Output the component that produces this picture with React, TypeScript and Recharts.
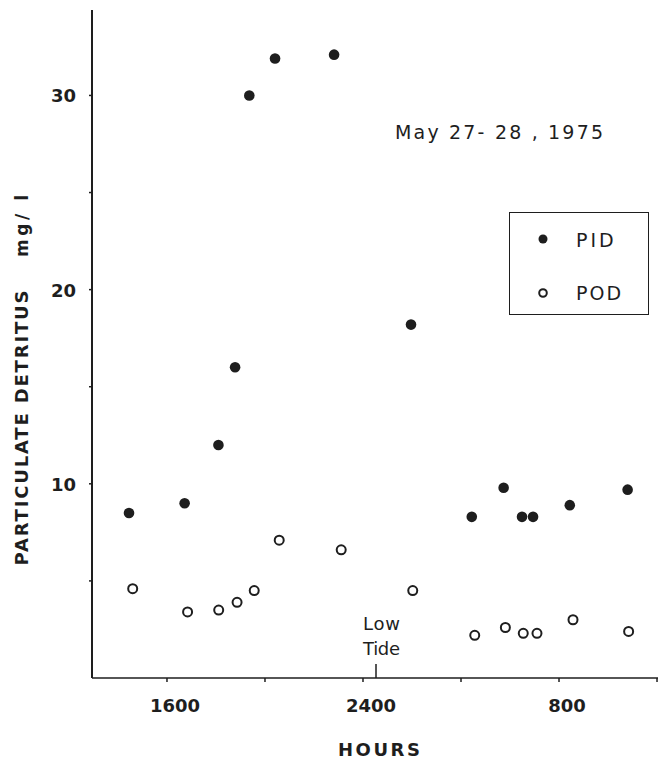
import React from 'react';
import { ScatterChart, Scatter, XAxis, YAxis, Legend } from 'recharts';

// hours counted from 0000 on May 27 (16 = 1600, 24 = 2400, 32 = 0800 next day)
const pidHours = [14.45, 16.72, 18.1, 18.78, 19.36, 20.41, 22.82, 25.96, 28.44, 29.74, 30.49, 30.94, 32.44, 34.8];
const pidValues = [8.5, 9.0, 12.0, 16.0, 30.0, 31.9, 32.1, 18.2, 8.3, 9.8, 8.3, 8.3, 8.9, 9.7];
const podHours = [14.56, 16.8, 18.07, 18.82, 19.52, 20.54, 23.07, 25.99, 28.52, 29.77, 30.5, 31.06, 32.53, 34.8];
const podValues = [4.6, 3.4, 3.5, 3.9, 4.5, 7.1, 6.6, 4.5, 2.2, 2.6, 2.3, 2.3, 3.0, 2.4];

const xTicks = [16, 20, 24, 28, 32, 36];
const xTickLabels: Record<number, string> = { 16: '1600', 24: '2400', 32: '800' };
const yTicks = [5, 10, 15, 20, 25, 30];
const yTickLabels: Record<number, string> = { 10: '10', 20: '20', 30: '30' };

const pidData = pidHours.map((h, i) => ({ h, v: pidValues[i] }));
const podData = podHours.map((h, i) => ({ h, v: podValues[i] }));

const INK = '#1e1e1e';
const FONT = '"DejaVu Sans", sans-serif';

const FilledDot = (props: any) => <circle cx={props.cx} cy={props.cy} r={5.3} fill={INK} />;
const OpenDot = (props: any) => (
  <circle cx={props.cx + 1} cy={props.cy} r={4.5} fill="none" stroke={INK} strokeWidth={2} />
);

const XTick = (props: any) => {
  const { x, y, payload } = props;
  const label = xTickLabels[payload.value];
  if (!label) return null;
  return (
    <text x={x + 8} y={y + 28} textAnchor="middle" fontFamily={FONT} fontWeight="bold" fontSize={18} fill={INK}>
      {label}
    </text>
  );
};

const YTick = (props: any) => {
  const { x, y, payload } = props;
  const label = yTickLabels[payload.value];
  if (!label) return null;
  return (
    <text x={x - 11} y={y + 7} textAnchor="end" fontFamily={FONT} fontWeight="bold" fontSize={18} fill={INK}>
      {label}
    </text>
  );
};

const LegendBox = () => (
  <div
    style={{
      width: 140,
      height: 103,
      border: `1.5px solid ${INK}`,
      boxSizing: 'border-box',
      position: 'relative',
    }}
  >
    <svg width={137} height={100} style={{ position: 'absolute', left: 0, top: 0 }}>
      <circle cx={33} cy={26} r={4.5} fill={INK} />
      <text x={66} y={34} fontFamily={FONT} fontSize={19} fill={INK} letterSpacing={3}>PID</text>
      <circle cx={33} cy={80} r={3.8} fill="none" stroke={INK} strokeWidth={2} />
      <text x={66} y={87} fontFamily={FONT} fontSize={19} fill={INK} letterSpacing={2}>POD</text>
    </svg>
  </div>
);

export default function App() {
  return (
    <div style={{ background: '#fff', width: 660, height: 760 }}>
      <style>{'body{margin:0}'}</style>
      <ScatterChart width={660} height={760} margin={{ top: 10, right: 2, bottom: 0, left: 0 }}>
        <XAxis
          type="number"
          dataKey="h"
          domain={[12.94, 36.04]}
          ticks={xTicks}
          tick={<XTick />}
          tickSize={4}
          height={82}
          axisLine={{ stroke: INK, strokeWidth: 1.6 }}
          tickLine={{ stroke: INK, strokeWidth: 1.5 }}
        />
        <YAxis
          type="number"
          dataKey="v"
          domain={[0, 34.4]}
          ticks={yTicks}
          tick={<YTick />}
          tickSize={3}
          width={92}
          axisLine={{ stroke: INK, strokeWidth: 2 }}
          tickLine={{ stroke: INK, strokeWidth: 1.5 }}
        />
        <Legend
          content={<LegendBox />}
          layout="horizontal"
          verticalAlign="middle"
          align="center"
          wrapperStyle={{ position: 'absolute', left: 509, top: 212, width: 140, height: 103 }}
        />
        <Scatter name="PID" data={pidData} shape={<FilledDot />} isAnimationActive={false} />
        <Scatter name="POD" data={podData} shape={<OpenDot />} isAnimationActive={false} />

        <text x={395} y={139} textLength={208} lengthAdjust="spacing" fontFamily={FONT} fontSize={19} fill={INK}>
          May 27- 28 , 1975
        </text>
        <text x={363} y={630} textLength={37} lengthAdjust="spacing" fontFamily={FONT} fontSize={18} fill={INK}>
          Low
        </text>
        <text x={363} y={655} textLength={37} lengthAdjust="spacing" fontFamily={FONT} fontSize={18} fill={INK}>
          Tide
        </text>
        <line x1={376} y1={664} x2={376} y2={678} stroke={INK} strokeWidth={1.5} />
        <text
          x={379}
          y={756}
          textAnchor="middle"
          textLength={82}
          lengthAdjust="spacing"
          fontFamily={FONT}
          fontWeight="bold"
          fontSize={18}
          fill={INK}
        >
          HOURS
        </text>
        <text
          transform="translate(28, 428) rotate(-90)"
          textAnchor="middle"
          textLength={275}
          lengthAdjust="spacing"
          fontFamily={FONT}
          fontWeight="bold"
          fontSize={18}
          fill={INK}
        >
          PARTICULATE DETRITUS
        </text>
        <text
          transform="translate(28, 226) rotate(-90)"
          textAnchor="middle"
          textLength={62}
          lengthAdjust="spacing"
          fontFamily={FONT}
          fontWeight="bold"
          fontSize={17}
          fill={INK}
        >
          mg/ l
        </text>
      </ScatterChart>
    </div>
  );
}
